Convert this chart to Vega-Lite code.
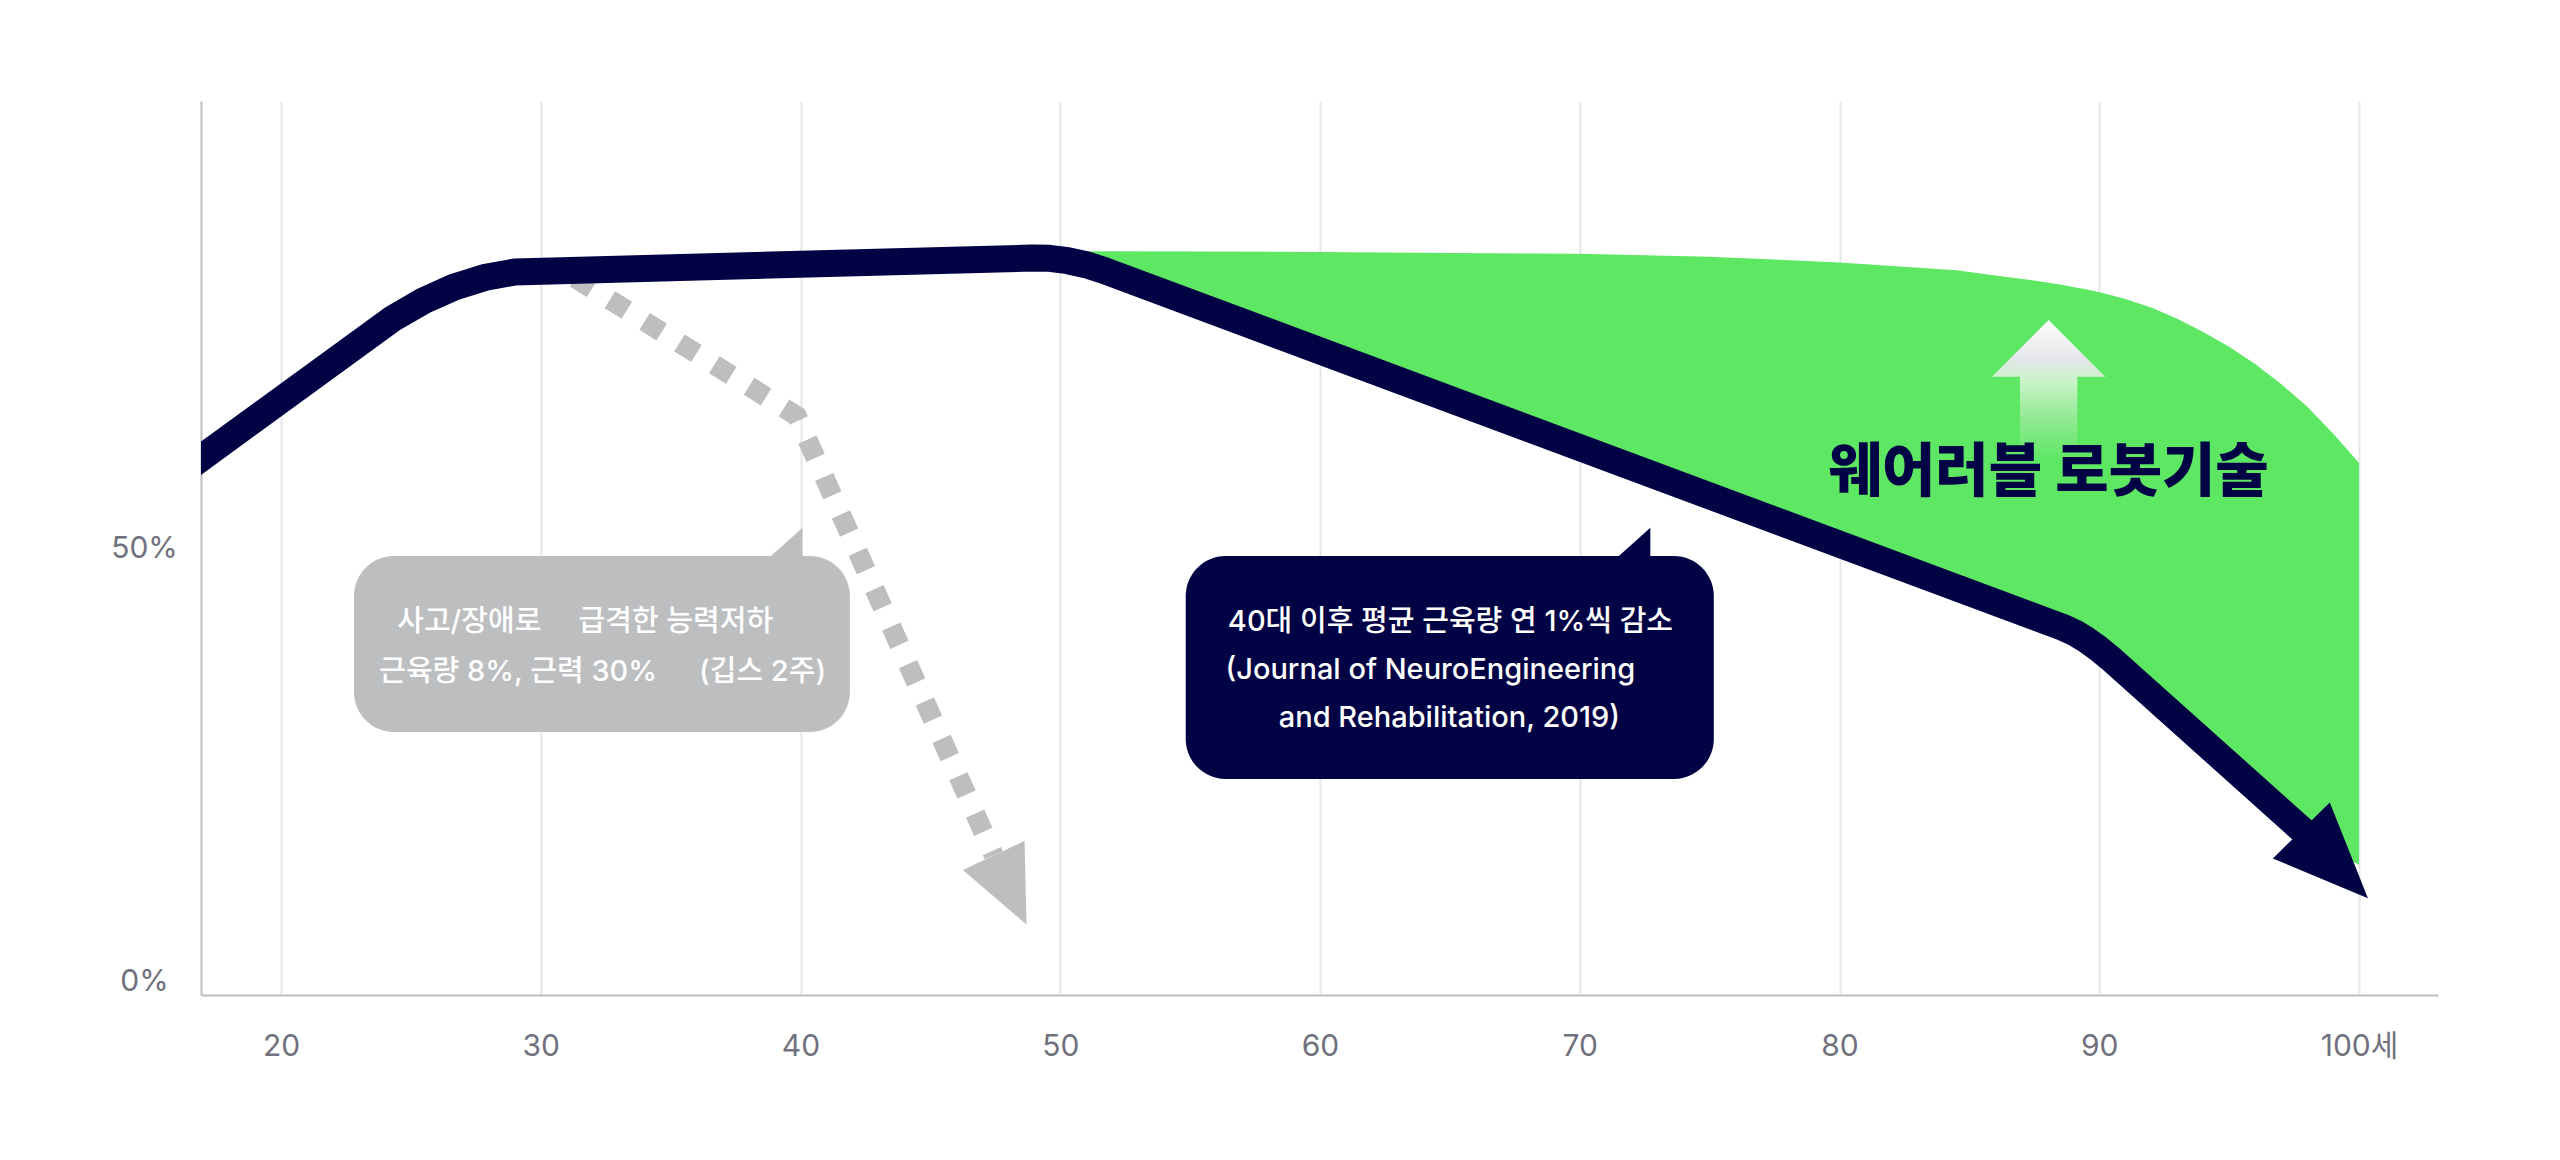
{
  "$schema": "https://vega.github.io/schema/vega-lite/v6.json",
  "width": 2237,
  "height": 894,
  "autosize": {"type": "none"},
  "padding": {"left": 201, "top": 101, "right": 122, "bottom": 165},
  "background": "#ffffff",
  "config": {"view": {"stroke": null}, "font": "Inter, 'Noto Sans CJK KR'"},
  "layer": [
    {
      "data": {"values": [
        {"age": 50.99, "top": 84.2, "bottom": 82.64},
        {"age": 51.7, "top": 84.2, "bottom": 81.96},
        {"age": 56, "top": 84.15, "bottom": 77.17},
        {"age": 60, "top": 84.1, "bottom": 72.71},
        {"age": 65, "top": 84.0, "bottom": 67.15},
        {"age": 70, "top": 83.9, "bottom": 61.58},
        {"age": 75, "top": 83.55, "bottom": 56.01},
        {"age": 80, "top": 82.9, "bottom": 50.44},
        {"age": 84.5, "top": 82.0, "bottom": 45.43},
        {"age": 86, "top": 81.4, "bottom": 43.76},
        {"age": 88, "top": 80.6, "bottom": 41.53},
        {"age": 88.6, "top": 80.3, "bottom": 40.85},
        {"age": 89.03, "top": 80.05, "bottom": 40.27},
        {"age": 89.49, "top": 79.8, "bottom": 39.45},
        {"age": 89.98, "top": 79.5, "bottom": 38.39},
        {"age": 90.5, "top": 79.1, "bottom": 37.1},
        {"age": 91, "top": 78.7, "bottom": 35.76},
        {"age": 92, "top": 77.7, "bottom": 33.08},
        {"age": 93, "top": 76.4, "bottom": 30.4},
        {"age": 94, "top": 74.9, "bottom": 27.72},
        {"age": 95, "top": 73.2, "bottom": 25.04},
        {"age": 96, "top": 71.2, "bottom": 22.36},
        {"age": 97, "top": 68.9, "bottom": 19.68},
        {"age": 98, "top": 66.3, "bottom": 17.0},
        {"age": 99, "top": 63.2, "bottom": 15.0},
        {"age": 100, "top": 59.8, "bottom": 13.5}
      ]},
      "mark": {"type": "area", "interpolate": "linear", "color": "#5de763"},
      "encoding": {
        "x": {
          "field": "age", "type": "quantitative",
          "scale": {"domain": [16.92, 103.04], "nice": false, "zero": false},
          "axis": {
            "values": [20, 30, 40, 50, 60, 70, 80, 90, 100],
            "title": null,
            "grid": true, "gridColor": "#e3e6ea", "gridWidth": 2,
            "domainColor": "#bebebe", "domainWidth": 2,
            "ticks": false, "tickSize": 0,
            "labelPadding": 51, "labelBaseline": "middle",
            "labelFlush": false, "labelOverlap": false,
            "labelFontSize": 30, "labelColor": "#71717e",
            "labelFont": "Inter, 'Noto Sans CJK KR'",
            "labelExpr": "datum.value == 100 ? '100세' : datum.label"
          }
        },
        "y": {
          "field": "top", "type": "quantitative",
          "scale": {"domain": [-1.5, 101.5], "nice": false, "zero": false},
          "axis": {
            "values": [0, 50],
            "title": null,
            "grid": false,
            "domainColor": "#bebebe", "domainWidth": 2,
            "ticks": false, "tickSize": 0,
            "labelPadding": 57, "labelAlign": "center",
            "labelFontSize": 30, "labelColor": "#71717e",
            "labelFont": "Inter, 'Noto Sans CJK KR'",
            "labelExpr": "datum.value + '%'"
          }
        },
        "y2": {"field": "bottom"}
      }
    },
    {
      "data": {"values": [{"age": 88.05, "v": 68.2}]},
      "mark": {
        "type": "point",
        "shape": "M0,-1L0.81,-0.19L0.41,-0.19L0.41,1L-0.41,1L-0.41,-0.19L-0.81,-0.19Z",
        "size": 19600, "filled": true, "opacity": 1, "strokeWidth": 0,
        "fill": {
          "gradient": "linear", "x1": 0, "y1": 0, "x2": 0, "y2": 1,
          "stops": [
            {"offset": 0, "color": "#ffffff"},
            {"offset": 0.28, "color": "#e4e6e9"},
            {"offset": 0.45, "color": "#c8f2c6"},
            {"offset": 0.7, "color": "#92ea93"},
            {"offset": 1, "color": "#5de763"}
          ]
        }
      },
      "encoding": {
        "x": {"field": "age", "type": "quantitative"},
        "y": {"field": "v", "type": "quantitative"}
      }
    },
    {
      "data": {"values": [
        {"age": 31.32, "v": 81.1},
        {"age": 39.86, "v": 65.2},
        {"age": 47.44, "v": 14.6}
      ]},
      "mark": {"type": "line", "color": "#bdbec0", "strokeWidth": 20, "strokeDash": [20, 21], "strokeCap": "butt", "strokeJoin": "miter"},
      "encoding": {
        "x": {"field": "age", "type": "quantitative"},
        "y": {"field": "v", "type": "quantitative"}
      }
    },
    {
      "data": {"values": [{"age": 48.07, "v": 10.6}]},
      "mark": {"type": "point", "shape": "M0,-1L0.894,1L-0.894,1Z", "size": 5837, "angle": 154.6, "filled": true, "opacity": 1, "strokeWidth": 0, "color": "#bdbec0"},
      "encoding": {
        "x": {"field": "age", "type": "quantitative"},
        "y": {"field": "v", "type": "quantitative"}
      }
    },
    {
      "data": {"values": [
        {"age": 16.0, "v": 58.34},
        {"age": 24.3, "v": 76.43},
        {"age": 25.49, "v": 78.48},
        {"age": 26.66, "v": 80.06},
        {"age": 27.83, "v": 81.16},
        {"age": 29.0, "v": 81.8},
        {"age": 48.9, "v": 83.41},
        {"age": 49.59, "v": 83.37},
        {"age": 50.29, "v": 83.1},
        {"age": 50.99, "v": 82.64},
        {"age": 51.7, "v": 81.96},
        {"age": 88.6, "v": 40.85},
        {"age": 89.03, "v": 40.27},
        {"age": 89.49, "v": 39.45},
        {"age": 89.98, "v": 38.39},
        {"age": 90.5, "v": 37.1},
        {"age": 98.0, "v": 17.0}
      ]},
      "mark": {"type": "line", "interpolate": "linear", "color": "#020344", "strokeWidth": 27, "strokeCap": "butt", "strokeJoin": "round", "clip": true},
      "encoding": {
        "x": {"field": "age", "type": "quantitative"},
        "y": {"field": "v", "type": "quantitative"}
      }
    },
    {
      "data": {"values": [{"age": 99.06, "v": 13.55}]},
      "mark": {"type": "point", "shape": "M0,-1L0.84,1L-0.84,1Z", "size": 9025, "angle": 135.5, "filled": true, "opacity": 1, "strokeWidth": 0, "color": "#020344"},
      "encoding": {
        "x": {"field": "age", "type": "quantitative"},
        "y": {"field": "v", "type": "quantitative"}
      }
    },
    {
      "data": {"values": [
        {"kind": "gray", "a1": 22.81, "a2": 41.90, "v1": 49.08, "v2": 28.80},
        {"kind": "navy", "a1": 54.83, "a2": 75.16, "v1": 49.08, "v2": 23.39}
      ]},
      "mark": {"type": "rect", "cornerRadius": 40},
      "encoding": {
        "x": {"field": "a1", "type": "quantitative"},
        "x2": {"field": "a2"},
        "y": {"field": "v1", "type": "quantitative"},
        "y2": {"field": "v2"},
        "color": {"field": "kind", "type": "nominal", "scale": {"domain": ["gray", "navy"], "range": ["#bdbec0", "#020344"]}, "legend": null}
      }
    },
    {
      "data": {"values": [
        {"kind": "gray", "age": 39.47, "v": 50.69},
        {"kind": "navy", "age": 72.11, "v": 50.69}
      ]},
      "mark": {"type": "point", "shape": "M1.05,-0.95L1.05,1.3L-1.05,1.3L-1.05,0.93Z", "size": 900, "filled": true, "opacity": 1, "strokeWidth": 0},
      "encoding": {
        "x": {"field": "age", "type": "quantitative"},
        "y": {"field": "v", "type": "quantitative"},
        "color": {"field": "kind", "type": "nominal", "scale": {"domain": ["gray", "navy"], "range": ["#bdbec0", "#020344"]}, "legend": null}
      }
    },
    {
      "data": {"values": [
        {"age": 27.25, "v": 41.5, "text": "사고/장애로"},
        {"age": 35.20, "v": 41.5, "text": "급격한 능력저하"},
        {"age": 29.13, "v": 35.7, "text": "근육량 8%, 근력 30%"},
        {"age": 38.54, "v": 35.7, "text": "(깁스 2주)"},
        {"age": 65.02, "v": 41.5, "text": "40대 이후 평균 근육량 연 1%씩 감소"},
        {"age": 64.25, "v": 35.9, "text": "(Journal of NeuroEngineering"},
        {"age": 64.98, "v": 30.4, "text": "and Rehabilitation, 2019)"}
      ]},
      "mark": {"type": "text", "align": "center", "baseline": "middle", "fontSize": 29, "fontWeight": 500, "color": "#ffffff", "font": "Inter, 'Noto Sans CJK KR'"},
      "encoding": {
        "x": {"field": "age", "type": "quantitative"},
        "y": {"field": "v", "type": "quantitative"},
        "text": {"field": "text"}
      }
    },
    {
      "data": {"values": [{"age": 88.05, "v": 58.5, "text": "웨어러블 로봇기술"}]},
      "mark": {"type": "text", "align": "center", "baseline": "middle", "fontSize": 58, "fontWeight": 900, "color": "#020344", "font": "'Noto Sans CJK KR'"},
      "encoding": {
        "x": {"field": "age", "type": "quantitative"},
        "y": {"field": "v", "type": "quantitative"},
        "text": {"field": "text"}
      }
    }
  ]
}
